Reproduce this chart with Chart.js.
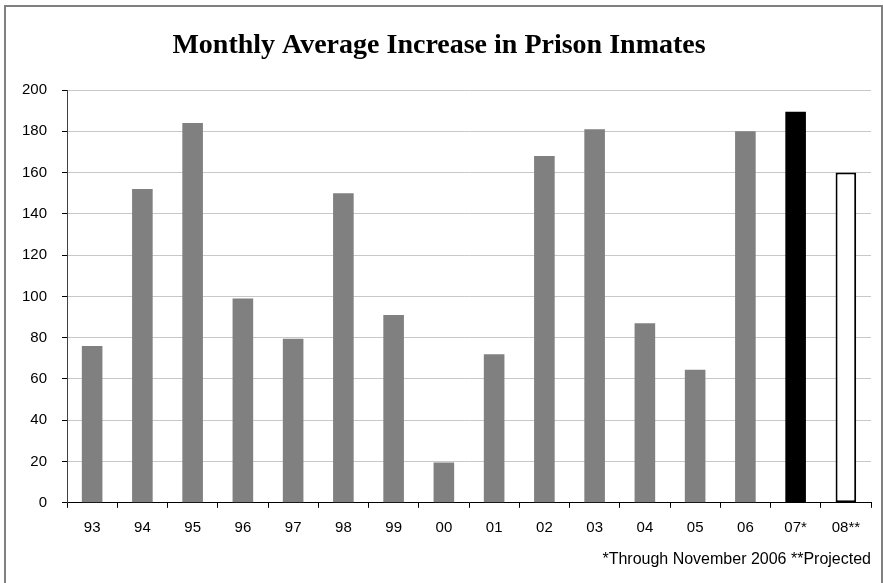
<!DOCTYPE html>
<html>
<head>
<meta charset="utf-8">
<title>Monthly Average Increase in Prison Inmates</title>
<script src="https://cdn.jsdelivr.net/npm/chart.js@4"></script>
<style>
  html, body { margin: 0; padding: 0; background: #ffffff; }
  #wrap { width: 883px; height: 583px; }
</style>
</head>
<body>
<div id="wrap"><canvas id="chart" width="883" height="583"></canvas></div>
<script>
// Fiscal years (two-digit) shown along the x axis
const years = ['93', '94', '95', '96', '97', '98', '99', '00', '01', '02', '03', '04', '05', '06', '07*', '08**'];
// Monthly average increase in inmates for each year
const increases = [76, 152, 184, 99, 79.5, 150, 91, 19.5, 72, 168, 181, 87, 64.5, 180, 189.5, 160];
// Value axis ticks
const yTicks = [0, 20, 40, 60, 80, 100, 120, 140, 160, 180, 200];
const chartTitle = 'Monthly Average Increase in Prison Inmates';
const footnote = '*Through November 2006 **Projected';

// Bar styling: actual years grey, partial year black, projection outlined
const barFill = years.map((y, i) => i === 14 ? '#000000' : (i === 15 ? '#ffffff' : '#808080'));
const barEdge = years.map((y, i) => i === 15 ? '#000000' : 'rgba(0,0,0,0)');
const barEdgeWidth = years.map((y, i) => i === 15 ? 2 : 0);

const framePlugin = {
  id: 'frame',
  beforeDraw(chart) {
    const ctx = chart.ctx;
    ctx.save();
    ctx.fillStyle = '#ffffff';
    ctx.fillRect(0, 0, chart.width, chart.height);
    ctx.restore();
  },
  afterDraw(chart) {
    const ctx = chart.ctx;
    ctx.save();
    ctx.strokeStyle = '#808080';
    ctx.lineWidth = 2;
    ctx.strokeRect(5, 6, 877, 650);
    ctx.restore();
  }
};

new Chart(document.getElementById('chart'), {
  type: 'bar',
  data: {
    labels: years,
    datasets: [{
      data: increases,
      backgroundColor: barFill,
      borderColor: barEdge,
      borderWidth: barEdgeWidth,
      borderSkipped: false,
      categoryPercentage: 1.0,
      barPercentage: 0.41
    }]
  },
  options: {
    responsive: false,
    animation: false,
    devicePixelRatio: 1,
    layout: { padding: { left: 7, right: 12, top: 0, bottom: 0 } },
    plugins: {
      legend: { display: false },
      tooltip: { enabled: false },
      title: {
        display: true,
        text: chartTitle,
        color: '#000000',
        font: { family: '"Liberation Serif", "Times New Roman", serif', size: 28, weight: 'bold', lineHeight: 1.2 },
        padding: { top: 29, bottom: 27.4 }
      },
      subtitle: {
        display: true,
        position: 'bottom',
        align: 'end',
        text: footnote,
        color: '#000000',
        font: { family: '"Liberation Sans", Arial, sans-serif', size: 16, weight: 'normal', lineHeight: 1.2 },
        padding: { top: 7, bottom: 14 }
      }
    },
    scales: {
      x: {
        offset: true,
        grid: {
          offset: true,
          drawOnChartArea: false,
          drawTicks: true,
          tickLength: 5,
          tickColor: '#000000'
        },
        border: { display: true, color: '#000000', width: 1 },
        ticks: {
          color: '#000000',
          font: { family: '"Liberation Sans", Arial, sans-serif', size: 15 },
          padding: 11,
          maxRotation: 0,
          autoSkip: false
        },
        afterFit(scale) { scale.height = 40; }
      },
      y: {
        min: 0,
        max: 200,
        afterBuildTicks(scale) { scale.ticks = yTicks.map(v => ({ value: v })); },
        grid: {
          color: '#c8c8c8',
          lineWidth: 1,
          drawTicks: true,
          tickLength: 5,
          tickColor: '#000000'
        },
        border: { display: true, color: '#404040', width: 1 },
        ticks: {
          color: '#000000',
          font: { family: '"Liberation Sans", Arial, sans-serif', size: 15 },
          padding: 15
        },
        afterFit(scale) { scale.width = 60; }
      }
    }
  },
  plugins: [framePlugin]
});
</script>
</body>
</html>
